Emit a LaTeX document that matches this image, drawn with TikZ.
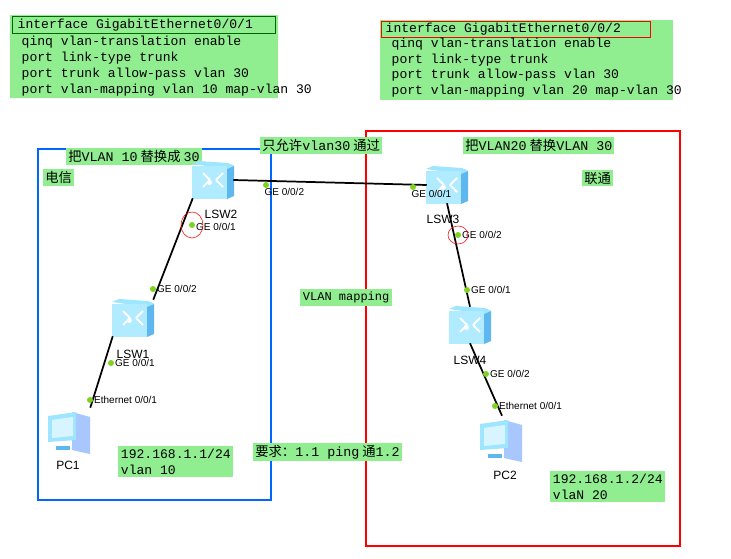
\documentclass[tikz,border=0pt]{standalone}
\usepackage{fontspec}
\setmainfont{Liberation Sans}
\newfontfamily\mono{Liberation Mono}
\newfontfamily\cjk{Noto Sans CJK SC}
\begin{document}
\begin{tikzpicture}[x=0.75pt,y=-0.75pt,
  gbox/.style={fill=gfill, inner sep=1pt, anchor=north west, align=left},
  code/.style={font=\mono\fontsize{9.8}{12}\selectfont},
  cn/.style={font=\cjk\fontsize{10}{12}\selectfont},
  port/.style={font=\fontsize{7.5}{9}\selectfont, inner sep=0.5pt},
  dev/.style={font=\fontsize{9}{10}\selectfont},
  dot/.style={circle, fill=dotg, inner sep=0pt, minimum size=4.5pt},
  link/.style={line width=1.3pt}]
\definecolor{gfill}{HTML}{90EE90}
\definecolor{dotg}{HTML}{7ED321}
\definecolor{sw}{HTML}{9EE6FF}
\definecolor{swd}{HTML}{5FB7F0}
\useasboundingbox (0,0) rectangle (731,559);
\fill[white] (0,0) rectangle (731,559);
% config boxes
\fill[gfill] (10,15) rectangle (278,98);
\draw[green!40!black] (12,16) rectangle (275,33);
\node[code,anchor=west] (c1) at (13,25) {interface GigabitEthernet0/0/1};
\node[code,anchor=west] (c2) at (17,42) {qinq vlan-translation enable};
\node[code,anchor=west] (c3) at (17,58) {port link-type trunk};
\node[code,anchor=west] (c4) at (17,74) {port trunk allow-pass vlan 30};
\node[code,anchor=west] (c5) at (17,90) {port vlan-mapping vlan 10 map-vlan 30};
\fill[gfill] (380,20) rectangle (673,100);
\draw[red] (381,21) rectangle (650,37);
\node[code,anchor=west] (d1) at (381,29) {interface GigabitEthernet0/0/2};
\node[code,anchor=west] (d2) at (387,44) {qinq vlan-translation enable};
\node[code,anchor=west] (d3) at (387,60) {port link-type trunk};
\node[code,anchor=west] (d4) at (387,75) {port trunk allow-pass vlan 30};
\node[code,anchor=west] (d5) at (387,91) {port vlan-mapping vlan 20 map-vlan 30};
% regions
\draw[blue!60!cyan, line width=0.8pt] (38,149) rectangle (271,500);
\draw[red, line width=0.8pt] (366,131) rectangle (680,546);
% labels
\node[gbox,inner sep=1.5pt] (t1) at (66,148) {\cjk\fontsize{10}{12}\selectfont 把{\mono VLAN 10} 替换成 {\mono 30}};
\node[gbox,inner sep=1.5pt] (t2) at (43,169) {\cjk\fontsize{10}{12}\selectfont 电信};
\node[gbox,inner sep=1.5pt] (t3) at (260,137) {\cjk\fontsize{10}{12}\selectfont 只允许{\mono vlan30} 通过};
\node[gbox,inner sep=1.5pt] (t4) at (463,137) {\cjk\fontsize{10}{12}\selectfont 把{\mono VLAN20} 替换{\mono VLAN 30}};
\node[gbox,inner sep=1.5pt] (t5) at (582,170) {\cjk\fontsize{10}{12}\selectfont 联通};
\node[gbox,inner sep=2pt] (t6) at (300,289) {\mono\fontsize{9}{12}\selectfont VLAN mapping};
\node[gbox,inner sep=1.5pt] (t7) at (253,443) {\cjk\fontsize{10}{12}\selectfont 要求：{\mono 1.1 ping} 通{\mono 1.2}};
\node[gbox,inner sep=2pt,code] (t8) at (118,446) {192.168.1.1/24\\vlan 10};
\node[gbox,inner sep=2pt,code] (t9) at (550,471) {192.168.1.2/24\\vlaN 20};
% switches
\foreach \n/\x/\y in {s2/213/180, s3/447/185, s1/133/318, s4/470/325}{
  \node[minimum width=30pt, minimum height=27pt, inner sep=0pt] (\n) at (\x,\y) {};
  \fill[swd] (\x+14,\y-17) -- (\x+21,\y-14) -- (\x+21,\y+16) -- (\x+14,\y+19) -- cycle;
  \fill[sw] (\x-21,\y-16) -- (\x-14,\y-19) -- (\x+14,\y-17) -- (\x+21,\y-14) -- (\x+14,\y-11) -- cycle;
  \fill[sw!80!white] (\x-21,\y-14) rectangle (\x+14,\y+19);
  \draw[white, line width=1.4pt] (\x-10,\y-7) -- (\x-3,\y) (\x+3,\y) -- (\x+10,\y+7) (\x+10,\y-7) -- (\x+3,\y) (\x-3,\y) -- (\x-10,\y+7);
  \fill[white] (\x-3.5,\y+2.5) circle (2.5);
}
\node[dev] (l2) at (221,214) {LSW2};
\node[dev] (l3) at (443,219) {LSW3};
\node[dev] (l1) at (133,354) {LSW1};
\node[dev] (l4) at (470,360) {LSW4};
% PCs
\foreach \n/\x/\y in {p1/70/432, p2/502/440}{
  \node[minimum width=30pt, minimum height=36pt, inner sep=0pt] (\n) at (\x,\y) {};
  \fill[sw!70!blue!60!white] (\x+2,\y-20) -- (\x+20,\y-15) -- (\x+20,\y+22) -- (\x+2,\y+18) -- cycle;
  \fill[sw] (\x-22,\y-16) -- (\x+6,\y-20) -- (\x+6,\y+8) -- (\x-22,\y+10) -- cycle;
  \fill[white!60!sw] (\x-18,\y-12) -- (\x+3,\y-15) -- (\x+3,\y+4) -- (\x-18,\y+6) -- cycle;
  \fill[swd] (\x-14,\y+14) rectangle (\x+0,\y+18);
}
\node[dev] (pc1l) at (68,465) {PC1};
\node[dev] (pc2l) at (505,475) {PC2};
% links
\draw[link] (s2.east) -- (s3.west);
\draw[link] (s2.south west) -- (s1.north east);
\draw[link] (s1.south west) -- (p1.north east);
\draw[link] (s3.south) -- (s4.north);
\draw[link] (s4.south) -- (p2.north);
% ports
\node[dot] (q1) at (266,185) {}; \node[port,anchor=north west] at (q1.south west) {GE 0/0/2};
\node[dot] (q2) at (413,187) {}; \node[port,anchor=north west] at (q2.south west) {GE 0/0/1};
\node[dot] (q3) at (192,225) {}; \node[port,anchor=west] at ([yshift=-1.5pt]q3.east) {GE 0/0/1};
\node[dot] (q4) at (153,289) {}; \node[port,anchor=west] at (q4.east) {GE 0/0/2};
\node[dot] (q5) at (111,363) {}; \node[port,anchor=west] at (q5.east) {GE 0/0/1};
\node[dot] (q6) at (90,400) {}; \node[port,anchor=west] at (q6.east) {Ethernet 0/0/1};
\node[dot] (q7) at (458,235) {}; \node[port,anchor=west] at (q7.east) {GE 0/0/2};
\node[dot] (q8) at (467,290) {}; \node[port,anchor=west] at (q8.east) {GE 0/0/1};
\node[dot] (q9) at (486,374) {}; \node[port,anchor=west] at (q9.east) {GE 0/0/2};
\node[dot] (q10) at (495,406) {}; \node[port,anchor=west] at (q10.east) {Ethernet 0/0/1};
\draw[red] (q3) ellipse (11 and 13);
\draw[red] (q7) ellipse (10 and 9);
\end{tikzpicture}
\end{document}
